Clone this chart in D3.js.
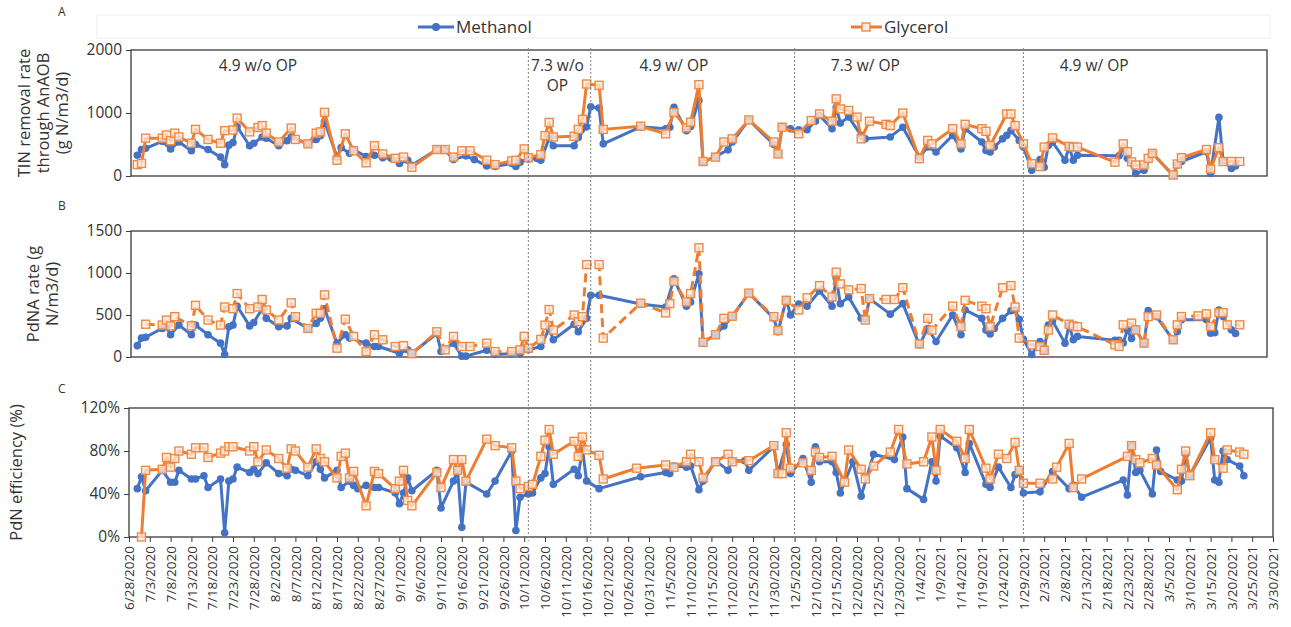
<!DOCTYPE html>
<html>
<head>
<meta charset="utf-8">
<script src="https://cdn.jsdelivr.net/npm/d3@7"></script>
<style>
  body { margin: 0; background: #fff; }
  text { font-family: "Open Sans", sans-serif; fill: #333; }
</style>
</head>
<body>
<svg width="1291" height="627"></svg>
<script>
// ---- data (date, value) ----
const tinMethanol = [
  ["6/30/2020",330],["7/1/2020",420],["7/2/2020",440],["7/6/2020",550],["7/8/2020",430],["7/10/2020",540],["7/13/2020",400],["7/14/2020",500],["7/17/2020",420],["7/20/2020",300],["7/21/2020",180],["7/22/2020",490],["7/23/2020",530],["7/24/2020",780],["7/27/2020",480],["7/28/2020",520],["7/30/2020",620],["7/31/2020",600],["8/3/2020",480],["8/5/2020",560],["8/6/2020",620],["8/10/2020",510],["8/12/2020",580],["8/13/2020",640],["8/14/2020",870],["8/17/2020",300],["8/18/2020",450],["8/20/2020",360],["8/21/2020",420],["8/24/2020",310],["8/26/2020",330],["8/28/2020",290],["8/30/2020",280],["9/1/2020",200],["9/3/2020",250],["9/4/2020",170],["9/10/2020",420],["9/12/2020",410],["9/14/2020",260],["9/17/2020",320],["9/19/2020",260],["9/22/2020",160],["9/24/2020",150],["9/28/2020",200],["9/29/2020",150],["9/30/2020",220],["10/2/2020",270],["10/4/2020",280],["10/5/2020",250],["10/7/2020",600],["10/8/2020",480],["10/13/2020",480],["10/14/2020",610],["10/16/2020",780],["10/17/2020",1100],["10/19/2020",1080],["10/20/2020",510],["10/29/2020",780],
  ["11/4/2020",750],["11/5/2020",775],["11/6/2020",1090],["11/9/2020",720],["11/10/2020",785],["11/12/2020",1200],["11/13/2020",220],["11/16/2020",310],["11/19/2020",415],["11/20/2020",540],["11/24/2020",890],["11/30/2020",500],["12/1/2020",350],["12/2/2020",785],["12/4/2020",750],["12/6/2020",735],["12/8/2020",735],["12/10/2020",870],["12/11/2020",960],["12/14/2020",750],["12/15/2020",1090],["12/16/2020",840],["12/18/2020",935],["12/21/2020",645],["12/22/2020",590],["12/28/2020",620],["12/31/2020",775],["1/4/2021",300],["1/6/2021",460],["1/8/2021",380],["1/12/2021",645],["1/14/2021",430],["1/15/2021",750],["1/19/2021",540],["1/20/2021",405],["1/21/2021",380],["1/22/2021",460],["1/24/2021",590],["1/25/2021",645],["1/26/2021",720],["1/28/2021",565],["1/29/2021",460],["1/31/2021",90],["2/2/2021",260],["2/3/2021",140],["2/4/2021",485],["2/5/2021",540],["2/8/2021",250],["2/9/2021",460],["2/10/2021",250],["2/11/2021",330],["2/21/2021",320],["2/22/2021",440],["2/23/2021",280],["2/25/2021",40],["2/27/2021",90],["3/1/2021",360],["3/6/2021",10],["3/7/2021",175],["3/8/2021",230],["3/14/2021",385],["3/15/2021",40],["3/17/2021",930],["3/18/2021",245],["3/20/2021",120],["3/21/2021",160]
];
const tinGlycerol = [
  ["6/30/2020",180],["7/1/2020",200],["7/2/2020",600],["7/6/2020",600],["7/7/2020",650],["7/8/2020",560],["7/9/2020",680],["7/10/2020",620],["7/13/2020",520],["7/14/2020",740],["7/17/2020",580],["7/20/2020",520],["7/21/2020",720],["7/23/2020",730],["7/24/2020",920],["7/27/2020",700],["7/29/2020",770],["7/30/2020",800],["7/31/2020",680],["8/3/2020",540],["8/6/2020",760],["8/7/2020",580],["8/10/2020",510],["8/12/2020",680],["8/13/2020",700],["8/14/2020",1010],["8/17/2020",250],["8/19/2020",670],["8/21/2020",400],["8/24/2020",210],["8/26/2020",480],["8/28/2020",350],["8/31/2020",280],["9/2/2020",300],["9/4/2020",140],["9/10/2020",420],["9/12/2020",420],["9/14/2020",300],["9/16/2020",400],["9/18/2020",400],["9/22/2020",250],["9/24/2020",180],["9/28/2020",240],["9/29/2020",250],["10/1/2020",430],["10/2/2020",290],["10/5/2020",340],["10/6/2020",640],["10/7/2020",850],["10/8/2020",620],["10/13/2020",630],["10/14/2020",740],["10/15/2020",900],["10/16/2020",1460],["10/19/2020",1440],["10/20/2020",740],["10/29/2020",790],
  ["11/4/2020",670],["11/6/2020",1010],["11/9/2020",765],["11/10/2020",855],["11/12/2020",1450],["11/13/2020",230],["11/16/2020",300],["11/18/2020",540],["11/20/2020",590],["11/24/2020",890],["11/30/2020",540],["12/1/2020",350],["12/2/2020",775],["12/6/2020",670],["12/9/2020",880],["12/11/2020",985],["12/14/2020",870],["12/15/2020",1225],["12/16/2020",1065],["12/18/2020",1040],["12/20/2020",935],["12/21/2020",590],["12/23/2020",870],["12/27/2020",820],["12/28/2020",800],["12/31/2020",1000],["1/4/2021",275],["1/6/2021",565],["1/7/2021",510],["1/12/2021",750],["1/14/2021",510],["1/15/2021",820],["1/19/2021",750],["1/20/2021",710],["1/21/2021",485],["1/25/2021",985],["1/26/2021",985],["1/27/2021",800],["1/29/2021",510],["1/31/2021",195],["2/2/2021",150],["2/3/2021",460],["2/5/2021",605],["2/9/2021",470],["2/10/2021",460],["2/11/2021",460],["2/20/2021",220],["2/22/2021",510],["2/23/2021",385],["2/24/2021",225],["2/25/2021",175],["2/27/2021",175],["2/28/2021",280],["3/1/2021",360],["3/6/2021",15],["3/7/2021",190],["3/8/2021",290],["3/14/2021",420],["3/15/2021",110],["3/17/2021",450],["3/18/2021",230],["3/20/2021",230],["3/22/2021",230]
];
const pdnaMethanol = [
  ["6/30/2020",135],["7/1/2020",225],["7/2/2020",235],["7/6/2020",340],["7/7/2020",360],["7/8/2020",265],["7/10/2020",380],["7/13/2020",265],["7/14/2020",380],["7/17/2020",265],["7/20/2020",165],["7/21/2020",30],["7/22/2020",360],["7/23/2020",380],["7/24/2020",605],["7/27/2020",370],["7/28/2020",410],["7/30/2020",575],["7/31/2020",460],["8/3/2020",360],["8/5/2020",370],["8/6/2020",460],["8/10/2020",340],["8/12/2020",400],["8/13/2020",460],["8/14/2020",575],["8/17/2020",165],["8/19/2020",265],["8/20/2020",225],["8/24/2020",165],["8/26/2020",125],["8/27/2020",125],["9/1/2020",45],["9/3/2020",85],["9/4/2020",45],["9/10/2020",280],["9/11/2020",65],["9/14/2020",165],["9/16/2020",10],["9/17/2020",10],["9/22/2020",80],["9/24/2020",30],["9/28/2020",40],["9/30/2020",45],["10/1/2020",105],["10/2/2020",85],["10/5/2020",125],["10/7/2020",340],["10/8/2020",205],["10/13/2020",390],["10/14/2020",300],["10/16/2020",460],["10/17/2020",735],["10/19/2020",735],["10/29/2020",630],
  ["11/4/2020",595],["11/6/2020",930],["11/9/2020",605],["11/10/2020",655],["11/12/2020",990],["11/13/2020",175],["11/16/2020",265],["11/18/2020",370],["11/20/2020",480],["11/24/2020",760],["11/30/2020",460],["12/1/2020",300],["12/3/2020",685],["12/4/2020",500],["12/6/2020",630],["12/8/2020",605],["12/11/2020",785],["12/14/2020",605],["12/15/2020",940],["12/16/2020",635],["12/18/2020",715],["12/21/2020",460],["12/22/2020",450],["12/23/2020",695],["12/28/2020",510],["12/31/2020",635],["1/4/2021",145],["1/6/2021",340],["1/8/2021",185],["1/12/2021",500],["1/14/2021",265],["1/15/2021",560],["1/19/2021",460],["1/20/2021",320],["1/21/2021",275],["1/22/2021",340],["1/24/2021",460],["1/26/2021",550],["1/27/2021",560],["1/28/2021",450],["1/29/2021",210],["1/31/2021",30],["2/2/2021",185],["2/3/2021",85],["2/4/2021",380],["2/5/2021",430],["2/8/2021",165],["2/9/2021",380],["2/10/2021",205],["2/11/2021",245],["2/20/2021",200],["2/21/2021",200],["2/22/2021",166],["2/23/2021",323],["2/24/2021",220],["2/25/2021",335],["2/27/2021",157],["2/28/2021",552],["3/2/2021",481],["3/6/2021",200],["3/7/2021",304],["3/8/2021",442],["3/14/2021",442],["3/15/2021",284],["3/16/2021",290],["3/17/2021",560],["3/18/2021",481],["3/20/2021",323],["3/21/2021",280]
];
const pdnaGlycerol = [
  ["7/2/2020",390],["7/6/2020",380],["7/7/2020",440],["7/8/2020",370],["7/9/2020",480],["7/13/2020",370],["7/14/2020",615],["7/17/2020",440],["7/20/2020",380],["7/21/2020",595],["7/23/2020",575],["7/24/2020",755],["7/27/2020",575],["7/29/2020",595],["7/30/2020",685],["7/31/2020",560],["8/3/2020",440],["8/6/2020",645],["8/7/2020",480],["8/10/2020",340],["8/12/2020",520],["8/13/2020",520],["8/14/2020",740],["8/17/2020",105],["8/19/2020",450],["8/21/2020",245],["8/24/2020",65],["8/26/2020",265],["8/28/2020",205],["8/31/2020",125],["9/2/2020",135],["9/4/2020",40],["9/10/2020",300],["9/12/2020",85],["9/14/2020",245],["9/16/2020",125],["9/18/2020",125],["9/22/2020",165],["9/24/2020",65],["9/28/2020",65],["9/30/2020",85],["10/1/2020",245],["10/2/2020",105],["10/5/2020",210],["10/6/2020",380],["10/7/2020",565],["10/8/2020",320],["10/13/2020",500],["10/14/2020",420],["10/15/2020",480],["10/16/2020",1100],["10/19/2020",1100],["10/20/2020",225],["10/29/2020",640],
  ["11/4/2020",525],["11/5/2020",635],["11/6/2020",900],["11/9/2020",655],["11/10/2020",755],["11/12/2020",1300],["11/13/2020",175],["11/16/2020",265],["11/18/2020",460],["11/20/2020",485],["11/24/2020",760],["11/30/2020",480],["12/1/2020",315],["12/3/2020",675],["12/6/2020",560],["12/8/2020",705],["12/11/2020",850],["12/14/2020",715],["12/15/2020",1010],["12/16/2020",870],["12/18/2020",800],["12/21/2020",815],["12/22/2020",440],["12/23/2020",695],["12/27/2020",685],["12/29/2020",685],["12/31/2020",825],["1/4/2021",155],["1/6/2021",460],["1/7/2021",320],["1/12/2021",605],["1/14/2021",360],["1/15/2021",675],["1/19/2021",605],["1/20/2021",575],["1/21/2021",360],["1/24/2021",825],["1/26/2021",850],["1/27/2021",595],["1/28/2021",225],["1/31/2021",145],["2/2/2021",125],["2/3/2021",80],["2/4/2021",320],["2/5/2021",500],["2/9/2021",390],["2/10/2021",370],["2/11/2021",360],["2/20/2021",146],["2/21/2021",126],["2/22/2021",383],["2/24/2021",403],["2/25/2021",323],["2/27/2021",166],["2/28/2021",481],["3/2/2021",500],["3/6/2021",205],["3/7/2021",383],["3/8/2021",481],["3/12/2021",490],["3/14/2021",513],["3/15/2021",363],["3/17/2021",528],["3/18/2021",528],["3/19/2021",383],["3/22/2021",383]
];
const pdnMethanol = [
  ["6/30/2020",45],["7/1/2020",56],["7/2/2020",43],["7/6/2020",62],["7/8/2020",51],["7/9/2020",51],["7/10/2020",62],["7/13/2020",54],["7/14/2020",54],["7/16/2020",57],["7/17/2020",46],["7/20/2020",54],["7/21/2020",4],["7/22/2020",52],["7/23/2020",54],["7/24/2020",65],["7/27/2020",60],["7/28/2020",63],["7/29/2020",59],["7/31/2020",69],["8/3/2020",59],["8/5/2020",57],["8/6/2020",63],["8/7/2020",62],["8/10/2020",57],["8/12/2020",70],["8/13/2020",63],["8/14/2020",55],["8/17/2020",62],["8/18/2020",46],["8/20/2020",52],["8/21/2020",48],["8/22/2020",45],["8/24/2020",48],["8/26/2020",46],["8/27/2020",46],["8/31/2020",41],["9/1/2020",31],["9/2/2020",41],["9/3/2020",55],["9/4/2020",43],["9/10/2020",62],["9/11/2020",27],["9/14/2020",52],["9/15/2020",62],["9/16/2020",9],["9/17/2020",51],["9/22/2020",40],["9/24/2020",52],["9/28/2020",80],["9/29/2020",6],["9/30/2020",37],["10/2/2020",40],["10/3/2020",41],["10/5/2020",55],["10/6/2020",59],["10/7/2020",84],["10/8/2020",49],["10/13/2020",63],["10/14/2020",57],["10/15/2020",82],["10/16/2020",52],["10/19/2020",45],["10/29/2020",56],
  ["11/4/2020",60],["11/5/2020",59],["11/6/2020",66],["11/9/2020",65],["11/10/2020",66],["11/12/2020",44],["11/13/2020",52],["11/16/2020",71],["11/19/2020",62],["11/20/2020",71],["11/23/2020",71],["11/24/2020",62],["11/30/2020",84],["12/1/2020",59],["12/3/2020",86],["12/4/2020",59],["12/7/2020",73],["12/9/2020",51],["12/10/2020",84],["12/11/2020",70],["12/14/2020",70],["12/15/2020",60],["12/16/2020",41],["12/19/2020",70],["12/21/2020",38],["12/24/2020",77],["12/29/2020",72],["12/31/2020",93],["1/1/2021",45],["1/5/2021",35],["1/7/2021",70],["1/8/2021",52],["1/9/2021",94],["1/13/2021",83],["1/15/2021",60],["1/16/2021",87],["1/20/2021",49],["1/21/2021",46],["1/23/2021",65],["1/26/2021",46],["1/27/2021",58],["1/28/2021",62],["1/29/2021",41],["2/2/2021",42],["2/5/2021",61],["2/9/2021",45],["2/10/2021",48],["2/12/2021",37],["2/22/2021",53],["2/23/2021",39],["2/24/2021",85],["2/25/2021",60],["2/26/2021",62],["3/1/2021",40],["3/2/2021",81],["3/3/2021",61],["3/7/2021",53],["3/8/2021",52],["3/9/2021",77],["3/10/2021",57],["3/15/2021",92],["3/16/2021",53],["3/17/2021",51],["3/18/2021",80],["3/19/2021",72],["3/22/2021",66],["3/23/2021",57]
];
const pdnGlycerol = [
  ["7/1/2020",0],["7/2/2020",62],["7/6/2020",63],["7/7/2020",74],["7/8/2020",65],["7/9/2020",73],["7/10/2020",80],["7/13/2020",77],["7/14/2020",83],["7/16/2020",83],["7/17/2020",74],["7/20/2020",78],["7/21/2020",80],["7/22/2020",84],["7/23/2020",84],["7/27/2020",80],["7/28/2020",84],["7/29/2020",70],["7/31/2020",81],["8/3/2020",73],["8/5/2020",64],["8/6/2020",82],["8/7/2020",80],["8/10/2020",65],["8/12/2020",82],["8/13/2020",73],["8/14/2020",70],["8/17/2020",55],["8/18/2020",75],["8/19/2020",78],["8/20/2020",55],["8/21/2020",61],["8/24/2020",29],["8/26/2020",61],["8/27/2020",59],["8/31/2020",45],["9/1/2020",52],["9/2/2020",62],["9/3/2020",34],["9/4/2020",29],["9/10/2020",60],["9/11/2020",46],["9/14/2020",72],["9/15/2020",62],["9/16/2020",72],["9/17/2020",52],["9/22/2020",91],["9/24/2020",85],["9/28/2020",83],["9/29/2020",52],["9/30/2020",45],["10/2/2020",47],["10/3/2020",49],["10/5/2020",75],["10/6/2020",90],["10/7/2020",100],["10/8/2020",77],["10/13/2020",89],["10/14/2020",75],["10/15/2020",93],["10/16/2020",81],["10/19/2020",76],["10/20/2020",54],["10/28/2020",64],
  ["11/4/2020",67],["11/6/2020",65],["11/9/2020",70],["11/10/2020",77],["11/12/2020",70],["11/13/2020",55],["11/16/2020",70],["11/19/2020",77],["11/20/2020",70],["11/24/2020",71],["11/30/2020",85],["12/1/2020",59],["12/2/2020",59],["12/3/2020",97],["12/4/2020",64],["12/7/2020",69],["12/9/2020",62],["12/10/2020",79],["12/11/2020",74],["12/14/2020",75],["12/17/2020",51],["12/18/2020",81],["12/21/2020",63],["12/22/2020",54],["12/24/2020",66],["12/28/2020",79],["12/30/2020",100],["1/1/2021",68],["1/5/2021",70],["1/7/2021",93],["1/8/2021",62],["1/9/2021",100],["1/13/2021",89],["1/15/2021",73],["1/16/2021",100],["1/20/2021",64],["1/21/2021",54],["1/23/2021",77],["1/25/2021",73],["1/27/2021",88],["1/28/2021",62],["1/29/2021",50],["2/2/2021",50],["2/5/2021",54],["2/6/2021",65],["2/9/2021",87],["2/10/2021",46],["2/12/2021",54],["2/23/2021",75],["2/24/2021",85],["2/25/2021",72],["2/26/2021",69],["3/1/2021",73],["3/2/2021",67],["3/7/2021",44],["3/8/2021",63],["3/9/2021",80],["3/10/2021",57],["3/15/2021",97],["3/16/2021",72],["3/18/2021",64],["3/19/2021",81],["3/22/2021",79],["3/23/2021",77]
];

// phase boundaries and labels
const dividers = ["10/2/2020", "10/17/2020", "12/5/2020", "1/29/2021"];
const phaseLabels = [
  { date: "7/29/2020", lines: ["4.9 w/o OP"] },
  { date: "10/9/2020", lines: ["7.3 w/o", "OP"] },
  { date: "11/6/2020", lines: ["4.9 w/ OP"] },
  { date: "12/22/2020", lines: ["7.3 w/ OP"] },
  { date: "2/15/2021", lines: ["4.9 w/ OP"] }
];
const seriesNames = ["Methanol", "Glycerol"];

// ---- setup ----
const svg = d3.select("svg");
const parseDate = d3.timeParse("%m/%d/%Y");
const fmtDate = d3.timeFormat("%-m/%-d/%Y");
const blue = "#4472C4", orange = "#ED7D31";
const sqStroke = "#EF8A45", sqFill = "#FCE9DC";

const start = parseDate("6/28/2020"), end = parseDate("3/30/2021");
const x = d3.scaleTime().domain([start, end]).range([129, 1273]);
const tickDates = d3.range(0, 276, 5).map(i => d3.timeDay.offset(start, i));

const panels = [
  { letter: "A", top: 50, bottom: 176, left: 131, right: 1267, max: 2000, ticks: [0, 1000, 2000], fmt: d => d,
    m: tinMethanol, g: tinGlycerol, dash: null,
    title: ["TIN removal rate", "through AnAOB", "(g N/m3/d)"], titleX: [24, 43, 62], letterY: 16 },
  { letter: "B", top: 231, bottom: 357, left: 131, right: 1267, max: 1500, ticks: [0, 500, 1000, 1500], fmt: d => d,
    m: pdnaMethanol, g: pdnaGlycerol, dash: "9,5",
    title: ["PdNA rate (g", "N/m3/d)"], titleX: [33, 52], letterY: 210 },
  { letter: "C", top: 408, bottom: 537, left: 129, right: 1273, max: 120, ticks: [0, 40, 80, 120], fmt: d => d + "%",
    m: pdnMethanol, g: pdnGlycerol, dash: null,
    title: ["PdN efficiency (%)"], titleX: [16], letterY: 393 }
];

// legend
const lg = svg.append("g");
lg.append("rect").attr("x", 97).attr("y", 15).attr("width", 1173).attr("height", 23)
  .attr("fill", "none").attr("stroke", "#eeeeee");
lg.append("line").attr("x1", 418).attr("x2", 454).attr("y1", 27).attr("y2", 27)
  .attr("stroke", blue).attr("stroke-width", 3);
lg.append("circle").attr("cx", 436).attr("cy", 27).attr("r", 4).attr("fill", blue);
lg.append("text").attr("x", 456).attr("y", 33).attr("font-size", 17).text(seriesNames[0]);
lg.append("line").attr("x1", 851).attr("x2", 882).attr("y1", 27).attr("y2", 27)
  .attr("stroke", orange).attr("stroke-width", 3);
lg.append("rect").attr("x", 862).attr("y", 23).attr("width", 8).attr("height", 8)
  .attr("fill", sqFill).attr("stroke", sqStroke).attr("stroke-width", 1.4);
lg.append("text").attr("x", 884).attr("y", 33).attr("font-size", 17).text(seriesNames[1]);

panels.forEach(p => {
  const y = d3.scaleLinear().domain([0, p.max]).range([p.bottom, p.top]);
  const g = svg.append("g");

  // frame
  g.append("rect").attr("x", p.left).attr("y", p.top)
    .attr("width", p.right - p.left).attr("height", p.bottom - p.top)
    .attr("fill", "none").attr("stroke", "#3a3a3a").attr("stroke-width", 1.3);

  // y axis
  const ya = g.append("g").attr("transform", `translate(${p.left},0)`)
    .call(d3.axisLeft(y).tickValues(p.ticks).tickFormat(p.fmt).tickSize(5).tickPadding(4));
  ya.select(".domain").remove();
  ya.selectAll("line").attr("stroke", "#3a3a3a");
  ya.selectAll("text").attr("font-size", 15.5).attr("fill", "#333")
    .style("font-family", '"Open Sans", sans-serif');

  // y title
  p.title.forEach((t, i) => {
    g.append("text")
      .attr("transform", `translate(${p.titleX[i]},${(p.top + p.bottom) / 2}) rotate(-90)`)
      .attr("text-anchor", "middle").attr("dy", "0.35em").attr("font-size", 16.5).text(t);
  });

  g.append("text").attr("x", 58).attr("y", p.letterY).attr("font-size", 12).text(p.letter);

  const line = d3.line().x(d => x(parseDate(d[0]))).y(d => y(d[1]));

  // methanol
  g.append("path").datum(p.m).attr("d", line).attr("fill", "none")
    .attr("stroke", blue).attr("stroke-width", 3).attr("stroke-linejoin", "round");
  g.selectAll(".mpt").data(p.m).enter().append("circle")
    .attr("cx", d => x(parseDate(d[0]))).attr("cy", d => y(d[1])).attr("r", 3.8).attr("fill", blue);

  // glycerol
  g.append("path").datum(p.g).attr("d", line).attr("fill", "none")
    .attr("stroke", orange).attr("stroke-width", 3).attr("stroke-linejoin", "round")
    .attr("stroke-dasharray", p.dash);
  g.selectAll(".gpt").data(p.g).enter().append("rect")
    .attr("x", d => x(parseDate(d[0])) - 4).attr("y", d => y(d[1]) - 4)
    .attr("width", 8).attr("height", 8)
    .attr("fill", sqFill).attr("fill-opacity", 0.75)
    .attr("stroke", sqStroke).attr("stroke-width", 1.4);

  // date axis only under the last panel
  if (p.letter === "C") {
    const xa = g.append("g").attr("transform", `translate(0,${p.bottom})`)
      .call(d3.axisBottom(x).tickValues(tickDates).tickFormat(fmtDate).tickSize(5));
    xa.select(".domain").remove();
    xa.selectAll("line").attr("stroke", "#3a3a3a");
    xa.selectAll("text")
      .attr("transform", "rotate(-90)").attr("text-anchor", "end")
      .attr("x", -9).attr("y", 0).attr("dy", "0.35em")
      .attr("font-size", 13.5).attr("fill", "#333")
      .style("font-family", '"Open Sans", sans-serif');
  }
});

// phase dividers
svg.selectAll(".div").data(dividers).enter().append("line")
  .attr("x1", d => x(parseDate(d))).attr("x2", d => x(parseDate(d)))
  .attr("y1", 48).attr("y2", 541)
  .attr("stroke", "#7f7f7f").attr("stroke-width", 1).attr("stroke-dasharray", "2,2");

// phase labels
phaseLabels.forEach(l => {
  l.lines.forEach((t, i) => {
    svg.append("text").attr("x", x(parseDate(l.date))).attr("y", 71 + i * 20)
      .attr("text-anchor", "middle").attr("font-size", 15.5).text(t);
  });
});
</script>
</body>
</html>
